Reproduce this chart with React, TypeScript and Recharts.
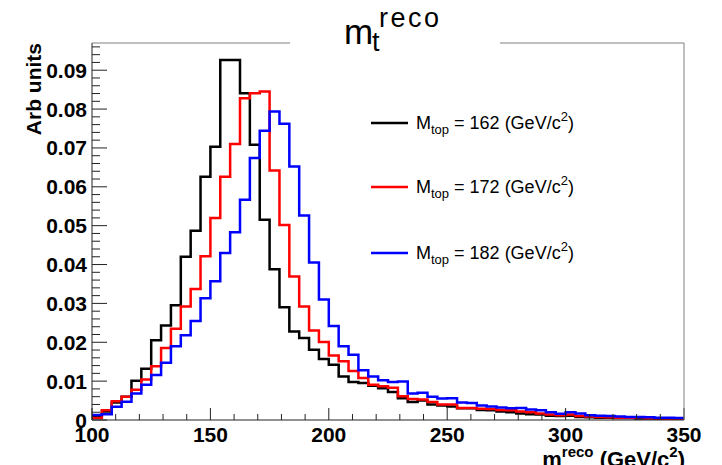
import React from "react";
import { LineChart, Line, XAxis, YAxis } from "recharts";

// histogram binning: 60 bins between 100 and 350 GeV/c^2
const BIN_LO = 100;
const BIN_HI = 350;
const N_BINS = 60;

// bin contents, one per bin
const M162 = [
  0.001, 0.0022, 0.0045, 0.006, 0.0101, 0.0132, 0.0205, 0.0243, 0.0295, 0.042,
  0.0487, 0.0626, 0.0703, 0.0926, 0.0926, 0.0841, 0.0708, 0.0515, 0.0388, 0.029,
  0.0228, 0.0211, 0.0181, 0.0157, 0.0142, 0.0112, 0.0098, 0.0095, 0.0088, 0.0082,
  0.0072, 0.0056, 0.0046, 0.005, 0.004, 0.0037, 0.0035, 0.003, 0.003, 0.0026,
  0.0025, 0.0022, 0.002, 0.0017, 0.0015, 0.0014, 0.0011, 0.001, 0.0011, 0.0008,
  0.0007, 0.0006, 0.0006, 0.0005, 0.0005, 0.0004, 0.0004, 0.0003, 0.0003, 0.0002,
];
const M172 = [
  0.0005, 0.0025, 0.0048, 0.006, 0.0078, 0.0104, 0.0138, 0.0185, 0.0235, 0.0292,
  0.0337, 0.0421, 0.052, 0.0626, 0.071, 0.0828, 0.0841, 0.0845, 0.0642, 0.0502,
  0.0369, 0.0292, 0.023, 0.0201, 0.0166, 0.0151, 0.0126, 0.0108, 0.0091, 0.0087,
  0.0083, 0.0061, 0.0054, 0.0053, 0.0046, 0.004, 0.004, 0.0031, 0.0031, 0.0029,
  0.0028, 0.0026, 0.0025, 0.0022, 0.002, 0.0017, 0.0014, 0.0012, 0.0014, 0.001,
  0.0009, 0.0008, 0.0007, 0.0006, 0.0006, 0.0007, 0.0004, 0.0004, 0.0003, 0.0003,
];
const M182 = [
  0.0013, 0.0015, 0.0034, 0.0047, 0.0068, 0.0091, 0.0116, 0.0147, 0.019, 0.0218,
  0.0255, 0.0313, 0.0357, 0.043, 0.0483, 0.0567, 0.0674, 0.0744, 0.0794, 0.0762,
  0.0652, 0.0526, 0.0405, 0.031, 0.0242, 0.019, 0.0168, 0.0128, 0.0112, 0.0102,
  0.0098, 0.0099, 0.0068, 0.007, 0.006, 0.0055, 0.0056, 0.0045, 0.0044, 0.0037,
  0.0035, 0.0032, 0.003, 0.0031, 0.0027, 0.0025, 0.002, 0.0016, 0.002, 0.0017,
  0.0012, 0.0011, 0.001, 0.0009, 0.0008, 0.0008, 0.0007, 0.0006, 0.0006, 0.0005,
];

const SERIES = [
  { key: "m162", mass: "162", color: "#000000", values: M162 },
  { key: "m172", mass: "172", color: "#ff0000", values: M172 },
  { key: "m182", mass: "182", color: "#0000ff", values: M182 },
];

const X_MAJOR = [100, 150, 200, 250, 300, 350];
const X_TICKS = [
  100, 110, 120, 130, 140, 150, 160, 170, 180, 190, 200, 210, 220, 230, 240,
  250, 260, 270, 280, 290, 300, 310, 320, 330, 340, 350,
];
const Y_MAJOR = [0, 0.01, 0.02, 0.03, 0.04, 0.05, 0.06, 0.07, 0.08, 0.09];
const Y_MAX = 0.097;

// layout
const W = 722;
const H = 465;
const PLOT_LEFT = 92;
const PLOT_RIGHT = 684;
const PLOT_TOP = 43;
const PLOT_BOTTOM = 420;
const FONT = "'Liberation Sans', Arial, Helvetica, sans-serif";

// y ticks every 0.002 (minor), labels only on the majors
const Y_TICKS = Array.from({ length: 49 }, (_, i) => +(i * 0.002).toFixed(3));

// step rows: one row per bin edge, last edge repeats the last bin
const binWidth = (BIN_HI - BIN_LO) / N_BINS;
const rows = Array.from({ length: N_BINS + 1 }, (_, i) => {
  const row: Record<string, number> = { x: BIN_LO + i * binWidth };
  SERIES.forEach((s) => {
    row[s.key] = s.values[Math.min(i, N_BINS - 1)];
  });
  return row;
});

const XTick = (props: any) => {
  const { x, payload } = props;
  const major = X_MAJOR.includes(payload.value);
  return (
    <g>
      <line x1={x} x2={x} y1={PLOT_BOTTOM} y2={PLOT_BOTTOM - (major ? 12 : 6)} stroke="#222" />
      {major && (
        <text x={x} y={PLOT_BOTTOM + 22} textAnchor="middle" fontFamily={FONT} fontWeight="bold" fontSize={21} fill="#000">
          {payload.value}
        </text>
      )}
    </g>
  );
};

const YTick = (props: any) => {
  const { y, payload } = props;
  const v = payload.value;
  const major = Y_MAJOR.some((m) => Math.abs(m - v) < 1e-6);
  return (
    <g>
      <line x1={PLOT_LEFT} x2={PLOT_LEFT + (major ? 15 : 8)} y1={y} y2={y} stroke="#222" />
      {major && (
        <text x={PLOT_LEFT - 5} y={y + 7.5} textAnchor="end" fontFamily={FONT} fontWeight="bold" fontSize={21} fill="#000">
          {v === 0 ? "0" : v.toFixed(2)}
        </text>
      )}
    </g>
  );
};

const LEGEND_ROWS_Y = [123, 187, 253];

const Overlay = () => (
  <svg width={W} height={H} style={{ position: "absolute", left: 0, top: 0, pointerEvents: "none" }}>
    {/* frame: top and right sides */}
    <line x1={PLOT_LEFT} x2={PLOT_RIGHT} y1={PLOT_TOP} y2={PLOT_TOP} stroke="#808080" />
    <line x1={PLOT_RIGHT} x2={PLOT_RIGHT} y1={PLOT_TOP} y2={PLOT_BOTTOM} stroke="#808080" />

    {/* title box */}
    <rect x={290} y={0} width={210} height={50} fill="#fff" />
    <text fontFamily={FONT} fill="#000">
      <tspan x={344} y={44} fontSize={35}>m</tspan>
      <tspan x={372} y={51} fontSize={27}>t</tspan>
      <tspan x={379} y={27} fontSize={27} letterSpacing={2.5}>reco</tspan>
    </text>

    {/* axis titles */}
    <text x={41} y={PLOT_TOP} transform={`rotate(-90, 41, ${PLOT_TOP})`} textAnchor="end" fontFamily={FONT} fontWeight="bold" fontSize={21} fill="#000">
      Arb units
    </text>
    <text x={PLOT_RIGHT + 1} y={467} textAnchor="end" fontFamily={FONT} fontWeight="bold" fontSize={22} fill="#000">
      m<tspan fontSize={15} dy={-10}>reco</tspan>
      <tspan dy={10}> (GeV/c</tspan>
      <tspan fontSize={15} dy={-10}>2</tspan>
      <tspan dy={10}>)</tspan>
    </text>

    {/* legend */}
    {SERIES.map((s, i) => {
      const y = LEGEND_ROWS_Y[i];
      return (
        <g key={s.key}>
          <line x1={371} x2={408} y1={y} y2={y} stroke={s.color} strokeWidth={2.5} />
          <text x={416} y={y + 6} fontFamily={FONT} fontSize={18} fill="#000">
            M<tspan fontSize={13} dy={5}>top</tspan>
            <tspan dy={-5}>{` = ${s.mass} (GeV/c`}</tspan>
            <tspan fontSize={13} dy={-8}>2</tspan>
            <tspan dy={8}>)</tspan>
          </text>
        </g>
      );
    })}
  </svg>
);

export default function App() {
  return (
    <div style={{ position: "absolute", left: 0, top: 0, width: W, height: H, background: "#fff" }}>
      <LineChart
        width={W}
        height={H}
        data={rows}
        margin={{ top: PLOT_TOP, right: W - PLOT_RIGHT, bottom: 0, left: 0 }}
      >
        <XAxis
          type="number"
          dataKey="x"
          domain={[BIN_LO, BIN_HI]}
          ticks={X_TICKS}
          interval={0}
          tick={<XTick />}
          tickLine={false}
          axisLine={{ stroke: "#222" }}
          height={H - PLOT_BOTTOM}
          allowDataOverflow
        />
        <YAxis
          type="number"
          domain={[0, Y_MAX]}
          ticks={Y_TICKS}
          interval={0}
          tick={<YTick />}
          tickLine={false}
          axisLine={{ stroke: "#222" }}
          width={PLOT_LEFT}
          allowDataOverflow
        />
        {SERIES.map((s) => (
          <Line
            key={s.key}
            type="stepAfter"
            dataKey={s.key}
            stroke={s.color}
            strokeWidth={2.5}
            strokeLinejoin="miter"
            dot={false}
            activeDot={false}
            isAnimationActive={false}
          />
        ))}
      </LineChart>
      <Overlay />
    </div>
  );
}
